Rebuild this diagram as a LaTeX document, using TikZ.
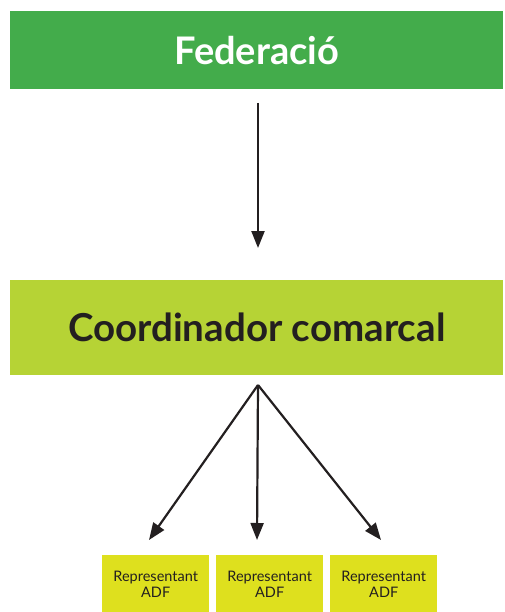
\documentclass[tikz,border=0pt]{standalone}
\usepackage{fontspec}
\setmainfont{Lato}
\usetikzlibrary{arrows.meta}
\definecolor{fedgreen}{HTML}{43AC4B}
\definecolor{coordlime}{HTML}{B6D335}
\definecolor{adfyellow}{HTML}{DEE01E}
\definecolor{arrowblack}{HTML}{231F20}
\tikzset{
  bigbox/.style={fill=#1, draw=none, minimum width=493pt, inner sep=0pt, anchor=north west},
  smallbox/.style={fill=adfyellow, draw=none, minimum width=107pt, minimum height=58pt, inner sep=0pt, anchor=north west, align=center, font=\fontsize{14.5}{16.5}\selectfont, text=arrowblack},
  conn/.style={draw=arrowblack, line width=2.2pt, -{Triangle[length=17pt,width=13pt]}}
}
\begin{document}
\begin{tikzpicture}[x=1pt,y=-1pt]
\useasboundingbox (0,0) rectangle (505,612);
\node[bigbox=fedgreen, minimum height=78pt, text=white, font=\fontsize{38}{42}\selectfont\bfseries] (fed) at (10,11) {Federació};
\node[bigbox=coordlime, minimum height=95pt, text=arrowblack, font=\fontsize{38.5}{42}\selectfont\bfseries] (coord) at (10,280) {Coordinador comarcal};
\node[smallbox] (r1) at (102,555) {Representant\\ADF};
\node[smallbox] (r2) at (216,555) {Representant\\ADF};
\node[smallbox] (r3) at (330,555) {Representant\\ADF};
\coordinate (top) at (258,385);
\coordinate (a1) at (258,103);
\coordinate (a2) at (258,248);
\coordinate (e1) at (149,540);
\coordinate (e2) at (257,540);
\coordinate (e3) at (381,540);
\draw[conn] (a1) -- (a2);
\draw[conn] (top) -- (e1);
\draw[conn] (top) -- (e2);
\draw[conn] (top) -- (e3);
\end{tikzpicture}
\end{document}
